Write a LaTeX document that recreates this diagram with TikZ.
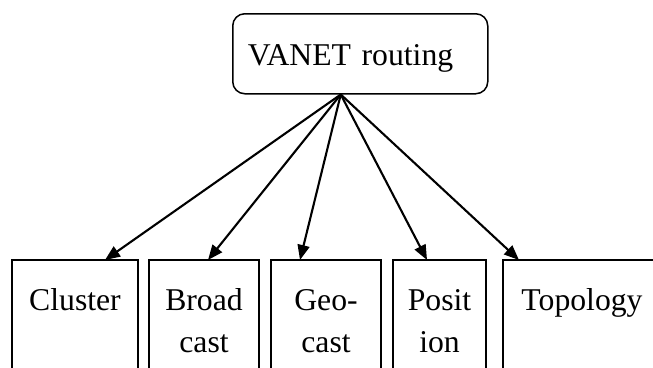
\documentclass[tikz,border=0pt]{standalone}
\usepackage{fontspec}
\setmainfont{Liberation Serif}
\usepackage{tikz}
\usetikzlibrary{positioning,arrows.meta}
\newcommand{\twoline}[2]{\begin{tabular}[t]{@{}c@{}}#1\\#2\end{tabular}}

\begin{document}
\begin{tikzpicture}[x=1pt, y=-1pt, font=\fontsize{31.7}{42}\selectfont,
		seg/.style={draw, line width=1.5pt, inner sep=0pt, outer sep=0pt, text height=50pt, text depth=110pt, anchor=north west},
		link/.style={-{Triangle[length=15pt,width=12pt]}, line width=2.1pt}]
		\useasboundingbox (0,0) rectangle (653,367);
		\clip (0,0) rectangle (653,367);
		\node[draw, rounded corners=12pt, line width=1.5pt, inner xsep=15pt, inner ysep=0pt, text width=225pt, align=left, text height=52pt, text depth=28pt, anchor=north west] (root) at (232,13) {VANET routing};
		\node[seg, minimum width=126pt] (cluster) at (12,260) {Cluster};
		\node[seg, minimum width=110pt, right=11pt of cluster] (broad) {\twoline{Broad}{cast}};
		\node[seg, minimum width=110pt, right=12pt of broad] (geo) {\twoline{Geo-}{cast}};
		\node[seg, minimum width=93pt, right=12pt of geo] (posit) {\twoline{Posit}{ion}};
		\node[seg, minimum width=158pt, right=17pt of posit] (topology) {Topology};
		\coordinate (hub) at ([xshift=-19.5pt]root.south);
		\draw[link] (hub) -- ([xshift=30pt]cluster.north);
		\draw[link] (hub) -- ([xshift=4pt]broad.north);
		\draw[link] (hub) -- ([xshift=-26pt]geo.north);
		\draw[link] (hub) -- ([xshift=-12.5pt]posit.north);
		\draw[link] (hub) -- ([xshift=-63pt]topology.north);
	\end{tikzpicture}
\end{document}
